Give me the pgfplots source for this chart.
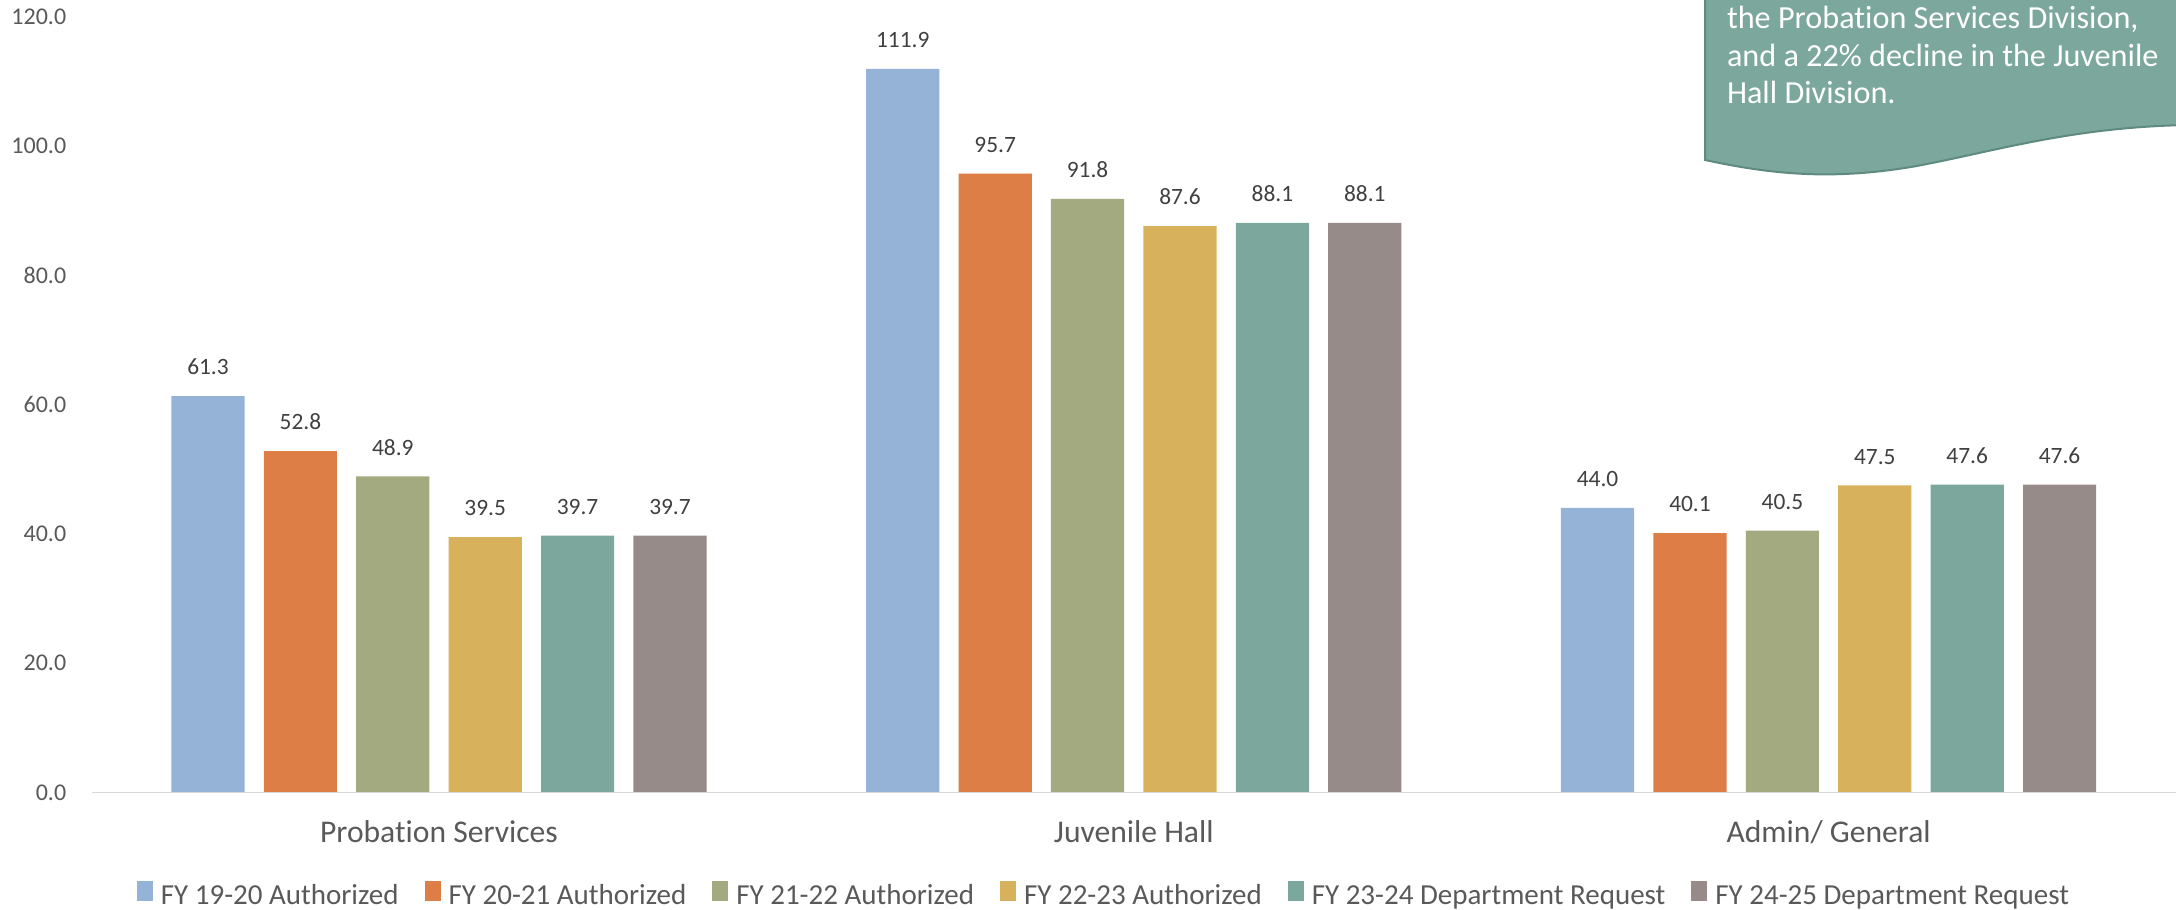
\documentclass[border=0pt]{standalone}
\usepackage{fontspec}
\setmainfont{Carlito}[Ligatures=NoCommon]
\usepackage{pgfplots}
\pgfplotsset{compat=1.18}
\definecolor{cA}{HTML}{95B3D7}
\definecolor{cB}{HTML}{DD7E46}
\definecolor{cC}{HTML}{A3AA7F}
\definecolor{cD}{HTML}{D8B15C}
\definecolor{cE}{HTML}{7BA79C}
\definecolor{cF}{HTML}{978B89}
\definecolor{calloutBorder}{HTML}{5E8A80}
\definecolor{labelGray}{HTML}{595959}
\definecolor{dataGray}{HTML}{404040}
\definecolor{lineGray}{HTML}{D9D9D9}
\begin{document}
\begin{tikzpicture}
\begin{axis}[
  at={(0,0)}, anchor=south west,
  scale only axis, width=1042.2pt, height=387.9pt,
  xmin=-0.5, xmax=2.5, ymin=0, ymax=120,
  ybar=9.6pt, bar width=36.6pt,
  axis line style={draw=none},
  major tick length=0pt,
  xtick={0,1,2},
  xticklabels={Probation Services, Juvenile Hall, Admin/ General},
  xticklabel style={font=\fontsize{15.8}{19}\selectfont, text=labelGray, anchor=base, inner sep=0pt, yshift=-25.3pt},
  ytick={0,20,...,120},
  yticklabel style={font=\fontsize{12}{14}\selectfont, text=labelGray, anchor=east, inner sep=0pt, xshift=-12.5pt,
    /pgf/number format/fixed, /pgf/number format/precision=1, /pgf/number format/fixed zerofill, /pgf/number format/assume math mode=true},
  nodes near coords,
  nodes near coords style={font=\fontsize{11.7}{13}\selectfont, text=dataGray, inner sep=0pt, yshift=10.3pt,
    /pgf/number format/fixed, /pgf/number format/precision=1, /pgf/number format/fixed zerofill, /pgf/number format/assume math mode=true},
  legend columns=6,
  legend style={at={(0.4852,-0.1315)}, anchor=center, draw=none, fill=none,
    font=\fontsize{14.5}{17}\selectfont, text=labelGray, inner sep=0pt,
    nodes={inner sep=0pt},
    /tikz/every even column/.append style={column sep=13pt}},
  legend image code/.code={\fill[#1,draw=none] (0pt,-0.5ex) rectangle (8pt,7.5pt);\path (12pt,0pt);},
  clip=false,
]
\addplot[fill=cA, draw=none] coordinates {(0,61.3) (1,111.9) (2,44.0)};
\addplot[fill=cB, draw=none] coordinates {(0,52.8) (1,95.7) (2,40.1)};
\addplot[fill=cC, draw=none] coordinates {(0,48.9) (1,91.8) (2,40.5)};
\addplot[fill=cD, draw=none] coordinates {(0,39.5) (1,87.6) (2,47.5)};
\addplot[fill=cE, draw=none] coordinates {(0,39.7) (1,88.1) (2,47.6)};
\addplot[fill=cF, draw=none] coordinates {(0,39.7) (1,88.1) (2,47.6)};
\legend{FY 19-20 Authorized, FY 20-21 Authorized, FY 21-22 Authorized, FY 22-23 Authorized, FY 23-24 Department Request, FY 24-25 Department Request}
\draw[lineGray, line width=0.75pt] (rel axis cs:0,0) -- (rel axis cs:1,0);
\end{axis}
\begin{scope}
\clip (-45.8pt,-58.8pt) rectangle (1042.2pt,396.2pt);
\fill[cE] (806.7pt,420pt) -- (806.7pt,316.2pt)
  .. controls (840pt,309pt) and (870pt,306pt) .. (910.9pt,312.9pt)
  .. controls (950pt,320pt) and (990pt,333pt) .. (1050pt,333.7pt)
  -- (1050pt,420pt) -- cycle;
\draw[calloutBorder, line width=1pt] (806.7pt,420pt) -- (806.7pt,316.2pt)
  .. controls (840pt,309pt) and (870pt,306pt) .. (910.9pt,312.9pt)
  .. controls (950pt,320pt) and (990pt,333pt) .. (1050pt,333.7pt);
\begin{scope}[every node/.style={anchor=base west, inner sep=0pt, text=white, font=\fontsize{16.1}{19}\selectfont}]
\node at (817.5pt,382pt) {the Probation Services Division,};
\node at (817.5pt,362.9pt) {and a 22\% decline in the Juvenile};
\node at (817.5pt,344.2pt) {Hall Division.};
\end{scope}
\end{scope}
\pgfresetboundingbox
\path[use as bounding box] (-45.8pt,-58.8pt) rectangle (1042.2pt,396.2pt);
\end{tikzpicture}
\end{document}
